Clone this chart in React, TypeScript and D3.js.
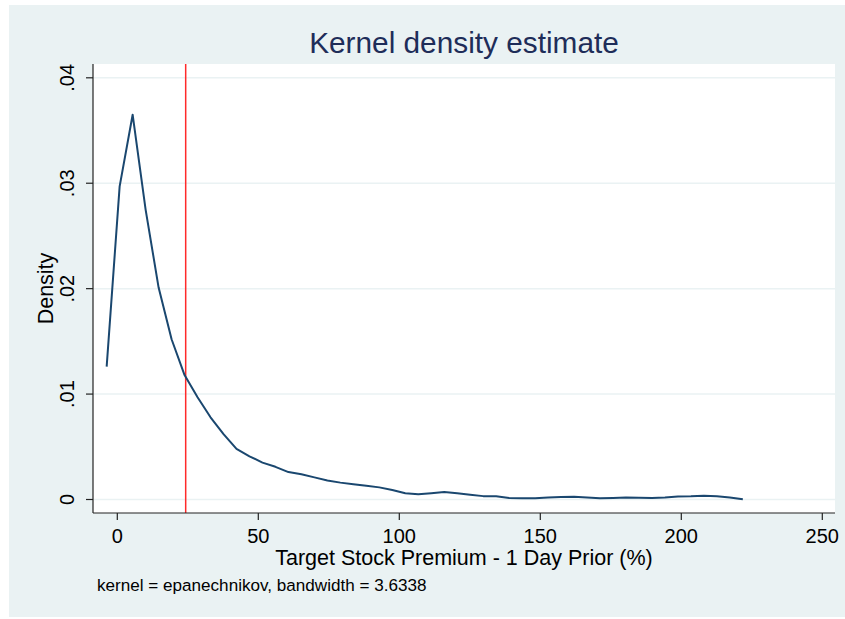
import React from "react";
import * as d3 from "d3";

const xs: number[] = [
  -3.77, 0.83, 5.44, 10.04, 14.65, 19.25, 23.85, 28.46, 33.06, 37.67,
  42.27, 46.87, 51.48, 56.08, 60.69, 65.29, 69.89, 74.5, 79.1, 83.71,
  88.31, 92.91, 97.52, 102.12, 106.73, 111.33, 115.93, 120.54, 125.14, 129.75,
  134.35, 138.95, 143.56, 148.16, 152.77, 157.37, 161.97, 166.58, 171.18, 175.79,
  180.39, 184.99, 189.6, 194.2, 198.81, 203.41, 208.01, 212.62, 217.22, 221.82,
];
const densities: number[] = [
  0.0126, 0.0297, 0.0365, 0.0275, 0.0201, 0.0152, 0.0118, 0.0097, 0.0078, 0.0062,
  0.0048, 0.0041, 0.0035, 0.0031, 0.0026, 0.0024, 0.0021, 0.0018, 0.0016, 0.00145,
  0.0013, 0.00115, 0.0009, 0.0006, 0.0005, 0.0006, 0.0007, 0.0006, 0.00045, 0.00032,
  0.0003, 0.00015, 0.00012, 0.00012, 0.00018, 0.00024, 0.00025, 0.00018, 0.00012, 0.00015,
  0.0002, 0.00016, 0.00014, 0.00018, 0.00028, 0.0003, 0.00036, 0.0003, 0.00018, 0.00002,
];
const xTicks: number[] = [0, 50, 100, 150, 200, 250];
const yTicks: number[] = [0, 0.01, 0.02, 0.03, 0.04];
const yTickLabels: string[] = ["0", ".01", ".02", ".03", ".04"];
const refLine = 24.25;
const title = "Kernel density estimate";
const xTitle = "Target Stock Premium - 1 Day Prior (%)";
const yTitle = "Density";
const note = "kernel = epanechnikov, bandwidth = 3.6338";

export default function App() {
  const W = 845, H = 619;
  const left = 93, right = 835, top = 64, bottom = 513;
  const x = d3.scaleLinear().domain([0, 250]).range([117.3, 822.3]);
  const y = d3.scaleLinear().domain([0, 0.04]).range([499.5, 77.8]);
  const pts = xs.map((v, i) => [v, densities[i]] as [number, number]);
  const line = d3.line<[number, number]>().x(d => x(d[0])).y(d => y(d[1]));
  const font = "'Liberation Sans', Arial, Helvetica, sans-serif";
  return (
    <svg width={W} height={H} style={{ position: "absolute", left: 0, top: 0 }} fontFamily={font}>
      <rect x={0} y={0} width={W} height={H} fill="#ffffff" />
      <rect x={9} y={5} width={W - 9} height={612} fill="#eaf2f3" />
      <rect x={left} y={top} width={right - left} height={bottom - top} fill="#ffffff" />
      {yTicks.map(t => (
        <line key={"g" + t} x1={left} x2={right} y1={y(t)} y2={y(t)} stroke="#eaf2f3" strokeWidth={1.5} />
      ))}
      <line x1={x(refLine)} x2={x(refLine)} y1={top} y2={bottom} stroke="#ff2a2a" strokeWidth={1.5} />
      <path d={line(pts) || ""} fill="none" stroke="#1a476f" strokeWidth={2} strokeLinejoin="round" />
      <line x1={left} x2={left} y1={top} y2={bottom} stroke="#222" strokeWidth={1.2} />
      <line x1={left} x2={right} y1={bottom} y2={bottom} stroke="#222" strokeWidth={1.2} />
      {yTicks.map((t, i) => (
        <g key={"y" + t}>
          <line x1={left - 7} x2={left} y1={y(t)} y2={y(t)} stroke="#222" strokeWidth={1.2} />
          <text transform={`translate(73.5,${y(t)}) rotate(-90)`} textAnchor="middle" fontSize={20} fill="#000">
            {yTickLabels[i]}
          </text>
        </g>
      ))}
      {xTicks.map(t => (
        <g key={"x" + t}>
          <line x1={x(t)} x2={x(t)} y1={bottom} y2={bottom + 7} stroke="#222" strokeWidth={1.2} />
          <text x={x(t)} y={542.7} textAnchor="middle" fontSize={20} fill="#000">{t}</text>
        </g>
      ))}
      <text transform={`translate(53,${(top + bottom) / 2}) rotate(-90)`} textAnchor="middle" fontSize={21.5} fill="#000">
        {yTitle}
      </text>
      <text x={464} y={565} textAnchor="middle" fontSize={21.5} fill="#000">{xTitle}</text>
      <text x={97} y={591} fontSize={17.1} fill="#000">{note}</text>
      <text x={464} y={53} textAnchor="middle" fontSize={29.8} fill="#1e2d59">{title}</text>
    </svg>
  );
}
